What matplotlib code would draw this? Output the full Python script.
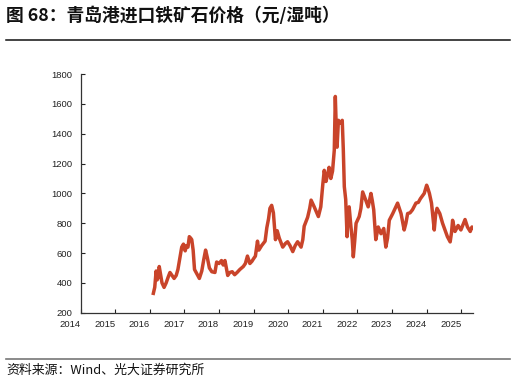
import matplotlib.pyplot as plt
import numpy as np

plt.rcParams['font.family'] = ['Noto Sans CJK SC', 'DejaVu Sans']

# 青岛港进口铁矿石价格 (元/湿吨), x in decimal years
years = [2016.10, 2016.14, 2016.18, 2016.21, 2016.24, 2016.27, 2016.30, 2016.35, 2016.41,
         2016.47, 2016.53, 2016.58, 2016.64, 2016.70, 2016.76, 2016.81, 2016.86, 2016.92,
         2016.97, 2017.02, 2017.06, 2017.10, 2017.14, 2017.18, 2017.21, 2017.25, 2017.29,
         2017.36, 2017.43, 2017.50, 2017.56, 2017.61, 2017.66, 2017.72, 2017.79, 2017.88,
         2017.93, 2018.00, 2018.07, 2018.12, 2018.17, 2018.21, 2018.25, 2018.31, 2018.38,
         2018.45, 2018.52, 2018.60, 2018.70, 2018.76, 2018.82, 2018.89, 2018.95, 2018.99,
         2019.05, 2019.11, 2019.15, 2019.23, 2019.33, 2019.38, 2019.43, 2019.47, 2019.52,
         2019.57, 2019.63, 2019.68, 2019.74, 2019.84, 2019.92, 2019.98, 2020.05, 2020.13,
         2020.20, 2020.27, 2020.37, 2020.42, 2020.46, 2020.56, 2020.62, 2020.66, 2020.75,
         2020.87, 2020.94, 2021.00, 2021.04, 2021.09, 2021.14, 2021.18, 2021.23, 2021.28,
         2021.33, 2021.36, 2021.39, 2021.41, 2021.45, 2021.50, 2021.56, 2021.59, 2021.62,
         2021.66, 2021.70, 2021.73, 2021.76, 2021.81, 2021.85, 2021.88, 2021.92, 2021.96,
         2022.05, 2022.10, 2022.15, 2022.20, 2022.24, 2022.31, 2022.39, 2022.43, 2022.47,
         2022.53, 2022.60, 2022.68, 2022.76, 2022.82, 2022.87, 2022.92, 2023.02, 2023.09,
         2023.16, 2023.26, 2023.35, 2023.40, 2023.45, 2023.52, 2023.59, 2023.69, 2023.76,
         2023.82, 2023.93, 2024.00, 2024.04, 2024.08, 2024.14, 2024.22, 2024.26, 2024.30,
         2024.38, 2024.46, 2024.53, 2024.60, 2024.68, 2024.72, 2024.75, 2024.82, 2024.91,
         2024.99, 2025.05, 2025.11, 2025.18, 2025.26, 2025.31, 2025.36]
price = [330, 370, 480, 420, 440, 510, 470, 400, 370,
         400, 440, 470, 450, 430, 450, 490, 560, 640,
         660, 615, 650, 640, 710, 700, 690, 620, 490,
         460, 430, 480, 560, 620, 570, 500, 475, 470,
         540, 530, 550, 520, 550, 500, 450, 470, 475,
         455, 470, 490, 510, 530, 580, 530, 545, 560,
         580, 680, 620, 650, 680, 770, 830, 900, 920,
         870, 690, 750, 700, 640, 665, 676, 650, 610,
         650, 676, 640, 690, 780, 840, 900, 955, 910,
         845, 910, 1065, 1155, 1080, 1130, 1175, 1100, 1150,
         1290, 1650, 1420, 1310, 1490, 1470, 1490, 1300, 1045,
         960, 710, 880, 910, 780, 690, 575, 680, 800,
         845, 900, 1010, 980, 955, 910, 1000, 950, 890,
         690, 775, 730, 765, 640, 700, 820, 865, 900,
         935, 865, 755, 800, 865, 870, 890, 935, 940,
         965, 1000, 1055, 1030, 1000, 935, 755, 860, 900,
         865, 800, 755, 710, 675, 740, 820, 745, 785,
         755, 790, 825, 775, 745, 775, 765]

yticks = [200, 400, 600, 800, 1000, 1200, 1400, 1600, 1800]
xticks = list(range(2014, 2026))

fig = plt.figure(figsize=(5.16, 3.8), dpi=100)
ax = fig.add_axes([0.1564, 0.177, 0.7596, 0.628])

ax.plot(years, price, color='#C9442A', linewidth=2.5, solid_joinstyle='round')

ax.set_xlim(2014, 2025.33)
ax.set_ylim(200, 1800)
ax.set_yticks(yticks)
ax.set_xticks(xticks)
ax.set_xticklabels([str(t) for t in xticks], ha='right')
ax.tick_params(direction='in', length=3, width=0.8, labelsize=6.8, colors='#222222')
ax.tick_params(axis='y', pad=6)
ax.tick_params(axis='x', pad=5)
for lab in ax.get_xticklabels() + ax.get_yticklabels():
    lab.set_family('Liberation Sans')
for s in ['top', 'right']:
    ax.spines[s].set_visible(False)
for s in ['left', 'bottom']:
    ax.spines[s].set_color('#333333')
    ax.spines[s].set_linewidth(0.9)

# title, rules and source
fig.text(0.012, 0.958, '图 68：青岛港进口铁矿石价格（元/湿吨）', fontsize=12.8,
         fontweight='bold', va='center', ha='left', color='#111111')
fig.add_artist(plt.Line2D([0.012, 0.988], [0.895, 0.895], color='#111111', linewidth=1.1))
fig.add_artist(plt.Line2D([0.012, 0.988], [0.055, 0.055], color='#777777', linewidth=1.2))
fig.text(0.012, 0.026, '资料来源：Wind、光大证券研究所', fontsize=9.3, va='center', ha='left',
         color='#111111')

plt.savefig('out.png', dpi=100)
